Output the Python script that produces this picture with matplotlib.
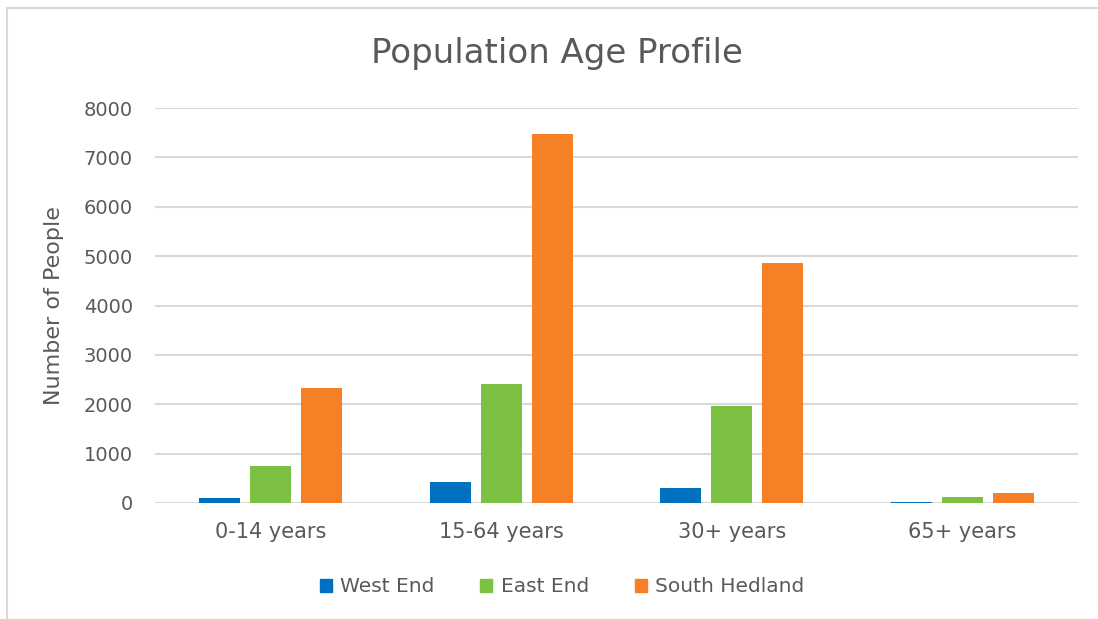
import matplotlib
matplotlib.use("Agg")
import matplotlib.pyplot as plt
import numpy as np
from matplotlib.lines import Line2D
from matplotlib.patches import Patch

categories = ["0-14 years", "15-64 years", "30+ years", "65+ years"]
series_names = ["West End", "East End", "South Hedland"]
west_end = [100, 420, 300, 20]
east_end = [740, 2410, 1970, 120]
south_hedland = [2330, 7480, 4860, 210]
colors = ["#0070C0", "#7DC142", "#F58025"]
yticks = [0, 1000, 2000, 3000, 4000, 5000, 6000, 7000, 8000]

plt.rcParams['font.family'] = ['DejaVu Sans']
txt = "#595959"

fig = plt.figure(figsize=(10.98, 6.19), dpi=100)
ax = fig.add_axes([155/1098, 1 - 503/619, (1078-155)/1098, (503-108)/619])

x = np.arange(len(categories))
width = 0.178
step = 0.221
for i, (vals, name, c) in enumerate(zip([west_end, east_end, south_hedland], series_names, colors)):
    ax.bar(x + (i - 1) * step, vals, width, color=c, label=name, zorder=3)

ax.set_xlim(-0.5, 3.5)
ax.set_ylim(0, 8000)
ax.set_yticks(yticks)
ax.set_yticklabels([str(v) for v in yticks], fontsize=14, color=txt)
ax.set_xticks(x)
ax.set_xticklabels(categories, fontsize=15, color=txt)
ax.tick_params(axis='both', length=0)
ax.tick_params(axis='y', pad=16)
ax.tick_params(axis='x', pad=14)
ax.yaxis.grid(True, color="#d9d9d9", linewidth=1.5, zorder=0)
ax.set_axisbelow(True)
for s in ax.spines.values():
    s.set_visible(False)
ax.set_ylabel("Number of People", fontsize=16, color=txt, labelpad=14)

fig.text(557/1098, 1 - 53/619, "Population Age Profile", fontsize=24.5, color=txt,
         ha='center', va='center')

handles = [Patch(color=c) for c in colors]
fig.legend(handles, series_names, loc='center', bbox_to_anchor=(562/1098, 1 - 587/619),
           ncol=3, frameon=False, fontsize=14.5, labelcolor=txt,
           handlelength=0.6, handleheight=0.6, handletextpad=0.4, columnspacing=2.3)

fig.add_artist(Line2D([7/1098, 1], [1 - 8/619, 1 - 8/619], color="#d9d9d9", lw=1.5))
fig.add_artist(Line2D([7/1098, 7/1098], [0, 1 - 8/619], color="#d9d9d9", lw=1.5))

fig.savefig("out.png", dpi=100)
